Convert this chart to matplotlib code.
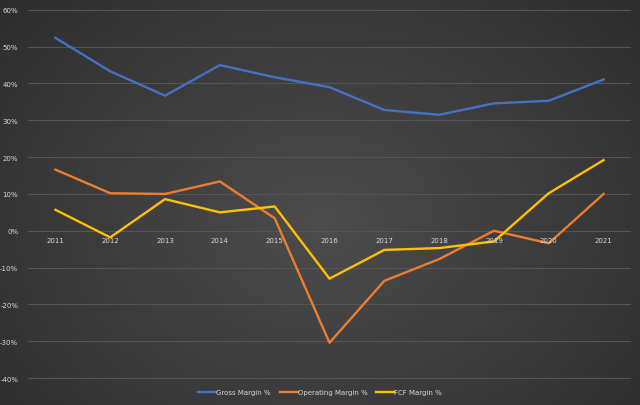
import matplotlib
matplotlib.use('Agg')
import matplotlib.pyplot as plt
import numpy as np

years = ['2011', '2012', '2013', '2014', '2015', '2016', '2017', '2018', '2019', '2020', '2021']
gross = [52.4, 43.3, 36.7, 45.0, 41.7, 39.0, 32.8, 31.5, 34.6, 35.3, 41.1]
operating = [16.6, 10.2, 10.0, 13.4, 3.4, -30.4, -13.6, -7.7, 0.0, -3.4, 10.0]
fcf = [5.7, -1.8, 8.6, 5.0, 6.6, -13.0, -5.2, -4.7, -2.9, 10.2, 19.2]

W, H = 640, 406
fig = plt.figure(figsize=(W / 100, H / 100), dpi=100)

# dark radial gradient background
bg = fig.add_axes([0, 0, 1, 1], zorder=-10)
yy, xx = np.mgrid[0:H, 0:W]
r = np.sqrt(((xx - W * 0.5) / (W * 0.65)) ** 2 + ((yy - H * 0.55) / (H * 0.8)) ** 2)
shade = np.clip(0.30 - 0.12 * r, 0.16, 0.31)
bg.imshow(np.dstack([shade] * 3), aspect='auto', extent=[0, 1, 0, 1])
bg.axis('off')

ax = fig.add_axes([28 / W, 1 - 396 / H, (631 - 28) / W, (396 - 9) / H])
ax.patch.set_alpha(0)
x = np.arange(len(years))
ax.plot(x, gross, color='#4472C4', lw=1.7, label='Gross Margin %', solid_joinstyle='round')
ax.plot(x, operating, color='#ED7D31', lw=1.7, label='Operating Margin %', solid_joinstyle='round')
ax.plot(x, fcf, color='#FFC000', lw=1.7, label='FCF Margin %', solid_joinstyle='round')

ax.set_xlim(-0.5, len(years) - 0.5)
ax.set_ylim(-44.6, 60.5)
ax.set_yticks(np.arange(-40, 61, 10))
ax.set_yticklabels(['%d%%' % v for v in np.arange(-40, 61, 10)])
ax.yaxis.grid(True, color='#555555', lw=0.8)
ax.set_axisbelow(True)
ax.tick_params(axis='y', length=0, labelsize=5, labelcolor='#d9d9d9', pad=7)
ax.set_xticks([])
for i, yr in enumerate(years):
    ax.text(i, -1.6, yr, ha='center', va='top', fontsize=5, color='#d9d9d9')
for s in ax.spines.values():
    s.set_visible(False)

leg = fig.legend(loc='center', bbox_to_anchor=(0.5, 1 - 393 / H), ncol=3, frameon=False,
                 fontsize=5, handlelength=2.6, handletextpad=0.0, columnspacing=1.3)
for t in leg.get_texts():
    t.set_color('#d9d9d9')

fig.savefig('out.png', dpi=100)
